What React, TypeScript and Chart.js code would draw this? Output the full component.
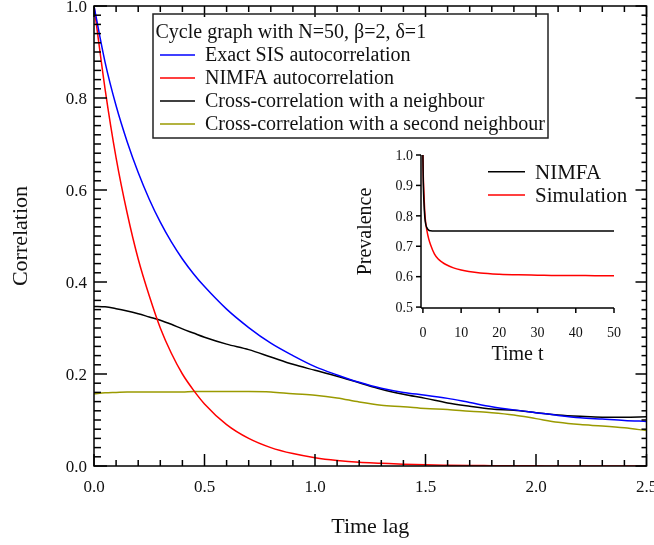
import React, { useEffect, useRef } from "react";
import { Chart, registerables } from "chart.js";

Chart.register(...registerables);

// ---------- Main chart data ----------
const lagTimes = [0, 0.05, 0.1, 0.15, 0.2, 0.25, 0.3, 0.35, 0.4, 0.45, 0.5, 0.6, 0.7, 0.8, 0.9, 1.0, 1.1, 1.2, 1.3, 1.4, 1.5, 1.6, 1.7, 1.8, 1.9, 2.0, 2.1, 2.2, 2.3, 2.4, 2.5];
const exactSIS = [1.0, 0.878, 0.783, 0.705, 0.638, 0.58, 0.53, 0.487, 0.45, 0.418, 0.39, 0.341, 0.301, 0.267, 0.24, 0.216, 0.198, 0.182, 0.169, 0.16, 0.154, 0.147, 0.138, 0.129, 0.122, 0.116, 0.11, 0.105, 0.102, 0.099, 0.097];
const nimfaAuto = [1.0, 0.82, 0.67, 0.55, 0.45, 0.37, 0.3, 0.245, 0.2, 0.165, 0.135, 0.09, 0.06, 0.04, 0.027, 0.018, 0.012, 0.008, 0.006, 0.004, 0.0025, 0.0017, 0.0011, 0.0008, 0.0005, 0.0003, 0.0002, 0.0001, 0.0001, 0.0, 0.0];
const crossFirst = [0.347, 0.346, 0.342, 0.337, 0.331, 0.324, 0.317, 0.308, 0.298, 0.289, 0.28, 0.265, 0.253, 0.237, 0.221, 0.208, 0.195, 0.181, 0.167, 0.156, 0.147, 0.137, 0.13, 0.124, 0.121, 0.116, 0.111, 0.108, 0.106, 0.106, 0.107];
const crossSecond = [0.157, 0.159, 0.16, 0.161, 0.161, 0.161, 0.161, 0.161, 0.161, 0.162, 0.162, 0.162, 0.162, 0.161, 0.157, 0.154, 0.148, 0.139, 0.132, 0.129, 0.125, 0.123, 0.119, 0.116, 0.111, 0.103, 0.095, 0.09, 0.087, 0.083, 0.077];

const seriesNames = [
  "Exact SIS autocorrelation",
  "NIMFA autocorrelation",
  "Cross-correlation with a neighbour",
  "Cross-correlation with a second neighbour",
];
const seriesColors = ["#0000ff", "#ff0000", "#000000", "#9a9a00"];
const legendTitle = "Cycle graph with N=50, \u03b2=2, \u03b4=1";

const xMajorTicks = [0, 0.5, 1.0, 1.5, 2.0, 2.5];
const xTickLabels = ["0.0", "0.5", "1.0", "1.5", "2.0", "2.5"];
const yMajorTicks = [0, 0.2, 0.4, 0.6, 0.8, 1.0];
const yTickLabels = ["0.0", "0.2", "0.4", "0.6", "0.8", "1.0"];
const xTitle = "Time lag";
const yTitle = "Correlation";

// ---------- Inset data ----------
const insetTimes = [0, 0.1, 0.25, 0.5, 0.75, 1, 1.5, 2, 3, 4, 5, 6, 8, 10, 12, 15, 20, 25, 30, 35, 40, 45, 50];
const insetNimfa = [1.0, 0.91, 0.85, 0.795, 0.772, 0.762, 0.753, 0.751, 0.75, 0.75, 0.75, 0.75, 0.75, 0.75, 0.75, 0.75, 0.75, 0.75, 0.75, 0.75, 0.75, 0.75, 0.75];
const insetSimulation = [1.0, 0.93, 0.88, 0.81, 0.775, 0.755, 0.725, 0.705, 0.675, 0.658, 0.648, 0.64, 0.629, 0.622, 0.617, 0.612, 0.608, 0.606, 0.605, 0.604, 0.604, 0.603, 0.603];
const insetNames = ["NIMFA", "Simulation"];
const insetColors = ["#000000", "#ff0000"];
const insetXTicks = [0, 10, 20, 30, 40, 50];
const insetYTicks = [0.5, 0.6, 0.7, 0.8, 0.9, 1.0];
const insetYLabels = ["0.5", "0.6", "0.7", "0.8", "0.9", "1.0"];
const insetXTitle = "Time t";
const insetYTitle = "Prevalence";

const FONT = '"Liberation Serif", "Times New Roman", Times, serif';

function seg(ctx: CanvasRenderingContext2D, x1: number, y1: number, x2: number, y2: number) {
  ctx.beginPath();
  ctx.moveTo(x1, y1);
  ctx.lineTo(x2, y2);
  ctx.stroke();
}

const mainAxesPlugin = {
  id: "mainAxes",
  afterDraw(chart: any) {
    const { ctx, chartArea: a, scales } = chart;
    const xs = scales.x;
    const ys = scales.y;
    ctx.save();
    ctx.strokeStyle = "#000";
    ctx.lineWidth = 1.5;
    ctx.strokeRect(a.left, a.top, a.right - a.left, a.bottom - a.top);
    // x ticks (minor every 0.1)
    for (let i = 0; i <= 25; i++) {
      const px = xs.getPixelForValue(i / 10);
      const major = i % 5 === 0;
      seg(ctx, px, a.bottom, px, a.bottom - (major ? 12 : 6));
      seg(ctx, px, a.top, px, a.top + (major ? 11 : 6));
    }
    // y ticks (minor every 0.02)
    for (let i = 0; i <= 50; i++) {
      const py = ys.getPixelForValue(i / 50);
      const major = i % 10 === 0;
      seg(ctx, a.left, py, a.left + (major ? 13 : 7), py);
      seg(ctx, a.right, py, a.right - (major ? 11 : 5), py);
    }
    ctx.fillStyle = "#111";
    ctx.font = `17px ${FONT}`;
    ctx.textBaseline = "alphabetic";
    ctx.textAlign = "center";
    xMajorTicks.forEach((v, i) => {
      ctx.fillText(xTickLabels[i], xs.getPixelForValue(v), a.bottom + 26);
    });
    ctx.textAlign = "right";
    yMajorTicks.forEach((v, i) => {
      ctx.fillText(yTickLabels[i], a.left - 7, ys.getPixelForValue(v) + 5.7);
    });
    // titles
    ctx.font = `22px ${FONT}`;
    ctx.textAlign = "center";
    ctx.fillText(xTitle, (a.left + a.right) / 2, 533);
    ctx.save();
    ctx.translate(26.5, (a.top + a.bottom) / 2);
    ctx.rotate(-Math.PI / 2);
    ctx.fillText(yTitle, 0, 0);
    ctx.restore();
    // legend box
    ctx.strokeStyle = "#222";
    ctx.lineWidth = 1.5;
    ctx.strokeRect(153, 14, 395, 124);
    ctx.font = `20px ${FONT}`;
    ctx.textAlign = "left";
    ctx.fillStyle = "#111";
    ctx.fillText(legendTitle, 155.5, 38);
    seriesNames.forEach((name, i) => {
      const base = 61 + i * 23;
      ctx.strokeStyle = seriesColors[i];
      ctx.lineWidth = 1.5;
      seg(ctx, 160, base - 6, 195, base - 6);
      ctx.fillStyle = "#111";
      ctx.fillText(name, 205, base);
    });
    ctx.restore();
  },
};

const insetAxesPlugin = {
  id: "insetAxes",
  afterDraw(chart: any) {
    const { ctx, chartArea: a, scales } = chart;
    const xs = scales.x;
    const ys = scales.y;
    ctx.save();
    ctx.strokeStyle = "#000";
    ctx.lineWidth = 1.5;
    seg(ctx, a.left, a.top, a.left, a.bottom);
    seg(ctx, a.left, a.bottom, a.right, a.bottom);
    ctx.fillStyle = "#111";
    ctx.font = `14px ${FONT}`;
    ctx.textBaseline = "alphabetic";
    ctx.textAlign = "center";
    insetXTicks.forEach((v) => {
      const px = xs.getPixelForValue(v);
      seg(ctx, px, a.bottom, px, a.bottom + 5);
      ctx.fillText(String(v), px, a.bottom + 29);
    });
    ctx.textAlign = "right";
    insetYTicks.forEach((v, i) => {
      const py = ys.getPixelForValue(v);
      seg(ctx, a.left, py, a.left - 5, py);
      ctx.fillText(insetYLabels[i], a.left - 8, py + 4.8);
    });
    ctx.font = `20px ${FONT}`;
    ctx.textAlign = "center";
    ctx.fillText(insetXTitle, (a.left + a.right) / 2, 220);
    ctx.save();
    ctx.translate(31, (a.top + a.bottom) / 2);
    ctx.rotate(-Math.PI / 2);
    ctx.fillText(insetYTitle, 0, 0);
    ctx.restore();
    // legend
    ctx.font = `21px ${FONT}`;
    ctx.textAlign = "left";
    insetNames.forEach((name, i) => {
      const base = 38.5 + i * 23.3;
      ctx.strokeStyle = insetColors[i];
      ctx.lineWidth = 1.5;
      seg(ctx, 148, base - 6.7, 185, base - 6.7);
      ctx.fillStyle = "#111";
      ctx.fillText(name, 195, base);
    });
    ctx.restore();
  },
};

export default function App() {
  const mainRef = useRef<HTMLCanvasElement | null>(null);
  const insetRef = useRef<HTMLCanvasElement | null>(null);

  useEffect(() => {
    if (!mainRef.current || !insetRef.current) return;
    const mainSeries = [exactSIS, nimfaAuto, crossFirst, crossSecond];
    const mainChart = new Chart(mainRef.current, {
      type: "line",
      data: {
        datasets: mainSeries.map((vals, i) => ({
          label: seriesNames[i],
          data: lagTimes.map((t, j) => ({ x: t, y: vals[j] })),
          borderColor: seriesColors[i],
          borderWidth: 1.5,
          pointRadius: 0,
          fill: false,
          cubicInterpolationMode: "monotone" as const,
        })),
      },
      options: {
        animation: false,
        responsive: false,
        devicePixelRatio: 1,
        layout: { padding: { left: 94, top: 6, right: 7.5, bottom: 79 } },
        plugins: { legend: { display: false }, tooltip: { enabled: false } },
        scales: {
          x: { type: "linear", min: 0, max: 2.5, display: false },
          y: { type: "linear", min: 0, max: 1.0, display: false },
        },
      },
      plugins: [mainAxesPlugin],
    });

    const insetSeries = [insetNimfa, insetSimulation];
    const insetChart = new Chart(insetRef.current, {
      type: "line",
      data: {
        datasets: insetSeries.map((vals, i) => ({
          label: insetNames[i],
          data: insetTimes.map((t, j) => ({ x: t, y: vals[j] })),
          borderColor: insetColors[i],
          borderWidth: 1.5,
          pointRadius: 0,
          fill: false,
          cubicInterpolationMode: "monotone" as const,
        })),
      },
      options: {
        animation: false,
        responsive: false,
        devicePixelRatio: 1,
        layout: { padding: { left: 81, top: 15, right: 26, bottom: 62 } },
        plugins: { legend: { display: false }, tooltip: { enabled: false } },
        scales: {
          x: { type: "linear", min: -0.5, max: 50, display: false },
          y: { type: "linear", min: 0.497, max: 1.0, display: false },
        },
      },
      plugins: [insetAxesPlugin],
    });

    return () => {
      mainChart.destroy();
      insetChart.destroy();
    };
  }, []);

  return (
    <div style={{ position: "fixed", left: 0, top: 0, width: 654, height: 545, background: "#fff" }}>
      <canvas ref={mainRef} width={654} height={545} style={{ position: "absolute", left: 0, top: 0, width: 654, height: 545 }} />
      <canvas ref={insetRef} width={300} height={230} style={{ position: "absolute", left: 340, top: 140, width: 300, height: 230 }} />
    </div>
  );
}
